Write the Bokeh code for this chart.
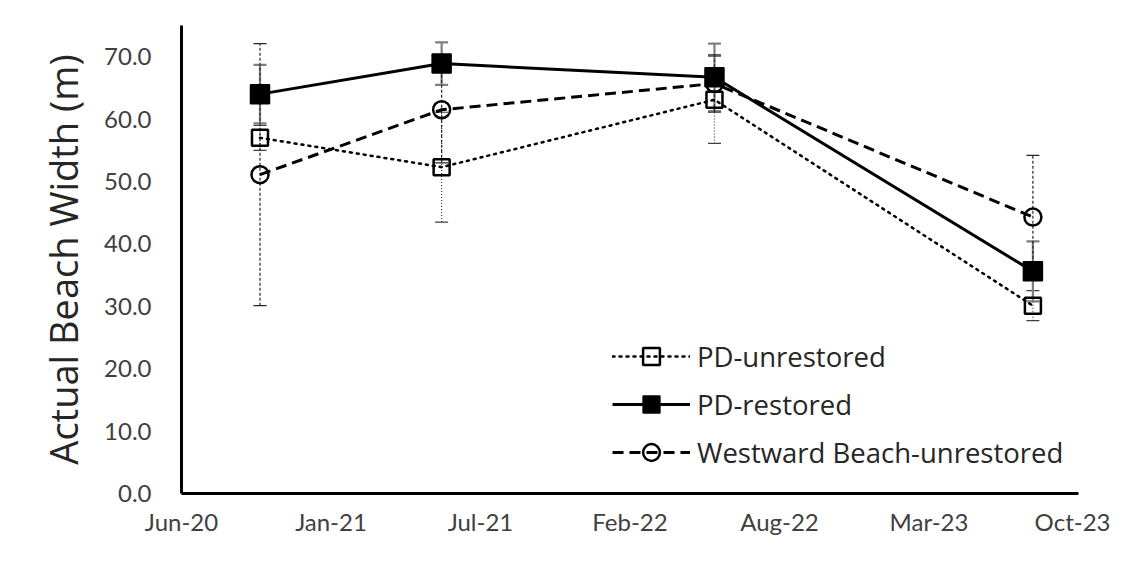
import pandas as pd
from bokeh.plotting import figure
from bokeh.models import (ColumnDataSource, Range1d, FixedTicker, NumeralTickFormatter,
                          DatetimeTickFormatter, Whisker, TeeHead, Legend, LegendItem)
from bokeh.embed import file_html
from bokeh.resources import INLINE

# ---------------- data ----------------
survey_dates = ["2020-10-01", "2021-06-01", "2022-06-01", "2023-08-01"]

pd_unrestored = [57.0, 52.3, 63.1, 30.1]
pd_unrestored_err = [2.0, 8.8, 7.0, 2.4]

pd_restored = [64.0, 68.9, 66.7, 35.6]
pd_restored_err = [4.7, 3.4, 5.4, 4.8]

westward = [51.1, 61.5, 65.7, 44.3]
westward_err = [21.0, 8.5, 4.6, 9.9]

x_tick_dates = ["2020-06-18", "2021-01-04", "2021-07-23", "2022-02-08",
                "2022-08-27", "2023-03-15", "2023-10-01"]
x_tick_labels = ["Jun-20", "Jan-21", "Jul-21", "Feb-22", "Aug-22", "Mar-23", "Oct-23"]
y_ticks = [0, 10, 20, 30, 40, 50, 60, 70]
y_max = 75

series_names = ["PD-unrestored", "PD-restored", "Westward Beach-unrestored"]

# ---------------- helpers ----------------
def to_ms(d):
    return pd.Timestamp(d).value // 10**6

x_dates = pd.to_datetime(survey_dates)
tick_ms = [to_ms(d) for d in x_tick_dates]

p = figure(width=1110, height=559, output_backend="svg", toolbar_location=None,
           x_axis_type="datetime",
           x_range=Range1d(tick_ms[0], tick_ms[-1]),
           y_range=Range1d(0, y_max),
           min_border_left=181, min_border_right=32, min_border_top=25, min_border_bottom=66)

p.background_fill_color = "white"
p.border_fill_color = "white"
p.outline_line_color = None
p.xgrid.visible = False
p.ygrid.visible = False

# axes
xa = p.xaxis[0]
xa.ticker = FixedTicker(ticks=tick_ms)
fmt = "%b-%y"
xa.formatter = DatetimeTickFormatter(microseconds=fmt, milliseconds=fmt, seconds=fmt, minsec=fmt,
                                     minutes=fmt, hourmin=fmt, hours=fmt, days=fmt,
                                     months=fmt, years=fmt)
xa.major_label_overrides = {t: lab for t, lab in zip(tick_ms, x_tick_labels)}
ya = p.yaxis[0]
ya.ticker = FixedTicker(ticks=y_ticks)
ya.formatter = NumeralTickFormatter(format="0.0")

for ax in (xa, ya):
    ax.axis_line_color = "black"
    ax.axis_line_width = 3
    ax.major_tick_line_color = None
    ax.minor_tick_line_color = None
    ax.major_label_text_font = "Lato"
    ax.major_label_text_font_size = "24px"
    ax.major_label_text_color = "#404040"

xa.major_label_standoff = 7
ya.major_label_standoff = 24
ya.axis_label = "Actual Beach Width (m)"
ya.axis_label_text_font = "Open Sans"
ya.axis_label_text_font_style = "normal"
ya.axis_label_text_font_size = "38px"
ya.axis_label_text_color = "#262626"
ya.axis_label_standoff = 12

# ---------------- series ----------------
styles = [
    dict(vals=pd_unrestored, err=pd_unrestored_err, marker="square", size=16,
         fill=None, line_dash="2 5", line_width=2.5, line_cap="round",
         err_color="#404040", err_width=1.2, err_dash="1 2"),
    dict(vals=pd_restored, err=pd_restored_err, marker="square", size=19,
         fill="black", line_dash="solid", line_width=3, line_cap="butt",
         err_color="#7f7f7f", err_width=2.2, err_dash="solid"),
    dict(vals=westward, err=westward_err, marker="circle", size=17,
         fill=None, line_dash="11 6", line_width=3, line_cap="butt",
         err_color="#262626", err_width=1.2, err_dash="3 2"),
]

# error bars first (underneath)
for st in styles:
    src = ColumnDataSource(dict(
        x=x_dates,
        upper=[v + e for v, e in zip(st["vals"], st["err"])],
        lower=[v - e for v, e in zip(st["vals"], st["err"])],
    ))
    w = Whisker(base="x", upper="upper", lower="lower", source=src, dimension="height",
                line_color=st["err_color"], line_width=st["err_width"], line_dash=st["err_dash"],
                upper_head=TeeHead(size=13, line_color=st["err_color"], line_width=st["err_width"]),
                lower_head=TeeHead(size=13, line_color=st["err_color"], line_width=st["err_width"]))
    p.add_layout(w)

line_renderers = []
for st in styles:
    src = ColumnDataSource(dict(x=x_dates, y=st["vals"]))
    lr = p.line("x", "y", source=src, line_color="black", line_width=st["line_width"],
                line_dash=st["line_dash"], line_cap=st["line_cap"])
    line_renderers.append(lr)

marker_renderers = []
for st in styles:
    src = ColumnDataSource(dict(x=x_dates, y=st["vals"]))
    if st["fill"] is None:
        mr = p.scatter("x", "y", source=src, marker=st["marker"], size=st["size"],
                       fill_alpha=0, line_color="black", line_width=2.5)
    else:
        mr = p.scatter("x", "y", source=src, marker=st["marker"], size=st["size"],
                       fill_color=st["fill"], line_color="black", line_width=1.5)
    marker_renderers.append(mr)

legend = Legend(items=[LegendItem(label=n, renderers=[lr, mr])
                       for n, lr, mr in zip(series_names, line_renderers, marker_renderers)],
                location=(431, 20))
legend.border_line_color = None
legend.background_fill_alpha = 0
legend.padding = 0
legend.margin = 0
legend.spacing = 6
legend.glyph_width = 78
legend.glyph_height = 42
legend.label_height = 42
legend.label_standoff = 7
legend.label_text_font = "Open Sans"
legend.label_text_font_size = "27.5px"
legend.label_text_color = "#262626"
legend.label_text_baseline = "middle"
p.add_layout(legend, "center")

open("out.html", "w").write(file_html(p, INLINE))
